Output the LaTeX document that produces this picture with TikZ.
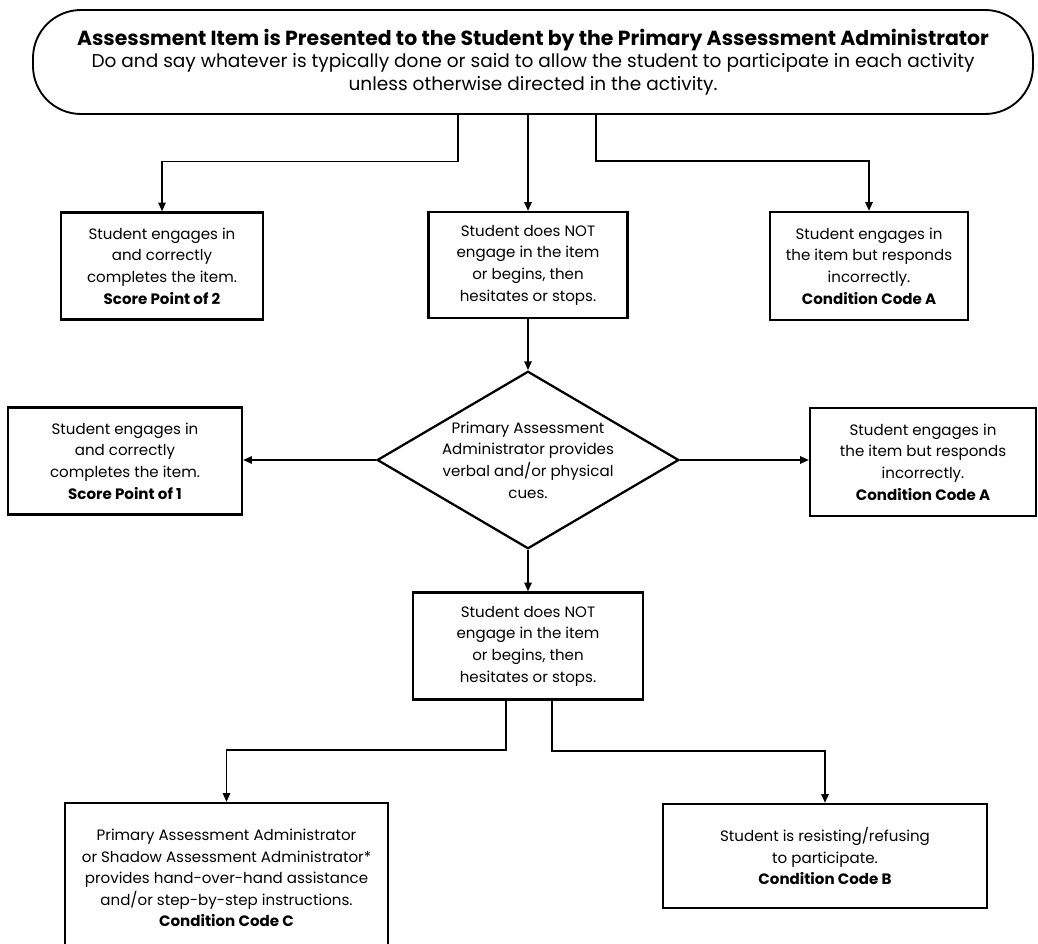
\documentclass[tikz,border=0pt]{standalone}
\usepackage{fontspec}
\setmainfont{Poppins}
\usepackage{tikz}
\usetikzlibrary{arrows.meta,positioning,shapes.geometric,calc}

\tikzset{
  box/.style={
    draw,
    line width=1.7pt,
    align=center,
    inner sep=2pt,
    font=\fontsize{11.3}{16.2}\selectfont
  },
  arr/.style={
    line width=1.1pt,
    -{Triangle[length=6.5pt,width=5.5pt]}
  }
}

\begin{document}
\begin{tikzpicture}[x=0.75pt,y=-0.75pt]
  \useasboundingbox (0,0) rectangle (1038,944);
  \clip (0,0) rectangle (1038,944);

  \node[
    draw,
    line width=1.4pt,
    rounded corners=36pt,
    minimum width=750pt,
    minimum height=78pt,
    align=center,
    font=\fontsize{13.9}{17}\selectfont
  ] (present) at (533,62) {
    {\fontsize{15.3}{17}\selectfont\textbf{Assessment Item is Presented to the Student by the Primary Assessment Administrator}}\\
    Do and say whatever is typically done or said to allow the student to participate in each activity\\
    unless otherwise directed in the activity.
  };

  \node[box, minimum width=151.5pt, minimum height=80.25pt] (score2) at (162,266) {
    Student engages in\\ and correctly\\ completes the item.\\ \textbf{Score Point of 2}};
  \node[box, minimum width=149.25pt, minimum height=79.5pt] (noengage) at (528,265) {
    Student does NOT\\ engage in the item\\ or begins, then\\ hesitates or stops.};
  \node[box, minimum width=148.5pt, minimum height=81pt] (codeA) at (869,266) {
    Student engages in\\ the item but responds\\ incorrectly.\\ \textbf{Condition Code A}};

  \node[
    draw,
    diamond,
    line width=1.7pt,
    inner sep=0pt,
    aspect=1.7,
    minimum width=220.5pt,
    minimum height=129pt,
    align=center,
    font=\fontsize{11.3}{16.2}\selectfont
  ] (cues) at (528,460) {
    Primary Assessment\\ Administrator provides\\ verbal and/or physical\\ cues.};

  \node[box, minimum width=175.5pt, minimum height=80.25pt] (score1) at (125,461) {
    Student engages in\\ and correctly\\ completes the item.\\ \textbf{Score Point of 1}};
  \node[box, minimum width=169.5pt, minimum height=81pt] (codeA2) at (923,462) {
    Student engages in\\ the item but responds\\ incorrectly.\\ \textbf{Condition Code A}};

  \node[box, minimum width=172.5pt, minimum height=80.25pt] (noengage2) at (528,646) {
    Student does NOT\\ engage in the item\\ or begins, then\\ hesitates or stops.};

  \node[box, minimum width=242.25pt, minimum height=112.5pt] (codeC) at (226.5,878) {
    Primary Assessment Administrator\\ or Shadow Assessment Administrator*\\
    provides hand-over-hand assistance\\ and/or step-by-step instructions.\\
    \textbf{Condition Code C}};
  \node[box, minimum width=243pt, minimum height=78pt] (codeB) at (825,856) {
    Student is resisting/refusing\\ to participate.\\ \textbf{Condition Code B}};

  % connectors
  \draw[arr] ($(noengage.north|-present.south)+(-70,0)$) |- ($(score2.north)+(0,-50)$) -- (score2.north);
  \draw[arr] (noengage.north|-present.south) -- (noengage.north);
  \draw[arr] ($(noengage.north|-present.south)+(68,0)$) |- ($(codeA.north)+(0,-50)$) -- (codeA.north);
  \draw[arr] (noengage.south) -- (cues.north);
  \draw[arr] (cues.west) -- (cues.west-|score1.east);
  \draw[arr] (cues.east) -- (cues.east-|codeA2.west);
  \draw[arr] (cues.south) -- (noengage2.north);
  \draw[arr] ($(noengage2.south)+(-22,0)$) |- ($(codeC.north)+(0,-52)$) -- (codeC.north);
  \draw[arr] ($(noengage2.south)+(24,0)$) |- ($(codeB.north)+(0,-52)$) -- (codeB.north);
\end{tikzpicture}
\end{document}
